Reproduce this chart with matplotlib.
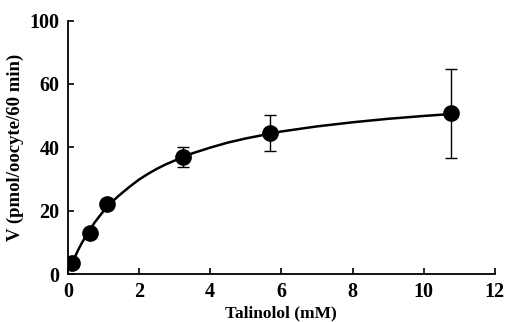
import matplotlib
matplotlib.use("Agg")
import matplotlib.pyplot as plt

# measured points
conc = [0.11, 0.61, 1.10, 3.25, 5.68, 10.76]
rate = [3.4, 12.8, 22.1, 37.0, 44.6, 50.7]
rate_err = [0.6, 1.0, 1.6, 3.1, 5.7, 14.0]

# fitted curve
curve_x = [0.11, 0.2, 0.3, 0.4, 0.5, 0.6, 0.75, 0.9, 1.0, 1.2, 1.4, 1.6, 1.8, 2.0, 2.25, 2.5, 2.75,
           3.0, 3.5, 4.0, 4.5, 5.0, 5.5, 6.0, 7.0, 8.0, 9.0, 10.0, 10.76]
curve_y = [3.1, 5.4, 7.8, 9.9, 11.8, 13.6, 16.2, 18.4, 19.8, 22.3, 24.4, 26.3, 28.1, 29.8, 31.6, 33.2, 34.6,
           35.8, 38.1, 39.9, 41.5, 42.8, 43.9, 45.0, 46.6, 47.9, 49.0, 49.9, 50.5]

y_ticks = [0, 20, 40, 60, 80]
y_ticklabels = ["0", "20", "40", "60", "100"]
x_ticks = [0, 2, 4, 6, 8, 10, 12]

plt.rcParams["font.family"] = "Liberation Serif"
plt.rcParams["font.weight"] = "bold"

fig = plt.figure(figsize=(5.06, 3.22), dpi=100)
ax = fig.add_axes([0.134, 0.149, 0.844, 0.787])

ax.plot(curve_x, curve_y, color="black", lw=1.8, zorder=2)
ax.errorbar(conc, rate, yerr=rate_err, fmt="o", color="black", ms=11,
            ecolor="black", elinewidth=1.0, capsize=4, capthick=1.0, zorder=3)

ax.set_xlim(0, 12)
ax.set_ylim(0, 80)
ax.set_xticks(x_ticks)
ax.set_yticks(y_ticks)
ax.set_yticklabels(y_ticklabels)
ax.tick_params(direction="in", length=4, width=1.2, labelsize=14.5, pad=6)

for side in ["top", "right"]:
    ax.spines[side].set_visible(False)
for side in ["left", "bottom"]:
    ax.spines[side].set_linewidth(1.3)

ax.set_xlabel("Talinolol (mM)", fontsize=12.5, fontweight="bold", labelpad=2)
ax.set_ylabel("V (pmol/oocyte/60 min)", fontsize=13.5, fontweight="bold", labelpad=4)

fig.savefig("out.png", dpi=100)
